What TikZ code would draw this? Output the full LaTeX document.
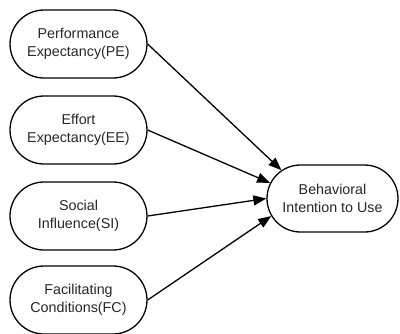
\documentclass[tikz,border=0pt]{standalone}
\usepackage{fontspec}
\setmainfont{Liberation Sans}
\usetikzlibrary{shapes.misc,arrows.meta}
\begin{document}
\begin{tikzpicture}[x=1pt,y=-1pt,
  pill/.style={draw=black, line width=1.3pt, rounded rectangle, minimum width=137pt, minimum height=68pt, inner sep=0pt, align=center, text=black!85, font=\fontsize{14.3}{17.5}\selectfont},
  link/.style={draw=black, line width=1.3pt, -{Triangle[length=13pt,width=10pt]}}]
\useasboundingbox (0,0) rectangle (400,333);
\node[pill] (pe) at (78.5,44) {Performance\\Expectancy(PE)};
\node[pill] (ee) at (78.5,130) {Effort\\Expectancy(EE)};
\node[pill] (si) at (78.5,216) {Social\\Influence(SI)};
\node[pill] (fc) at (78.5,300) {Facilitating\\Conditions(FC)};
\node[pill, minimum width=131pt, minimum height=67pt] (bi) at (332.5,198.5) {Behavioral\\Intention to Use};
\draw[link] (pe.east) -- (bi.151);
\draw[link] (ee.east) -- (bi.166);
\draw[link] (si.east) -- (bi.180);
\draw[link] (fc.east) -- (bi.196);
\end{tikzpicture}
\end{document}
